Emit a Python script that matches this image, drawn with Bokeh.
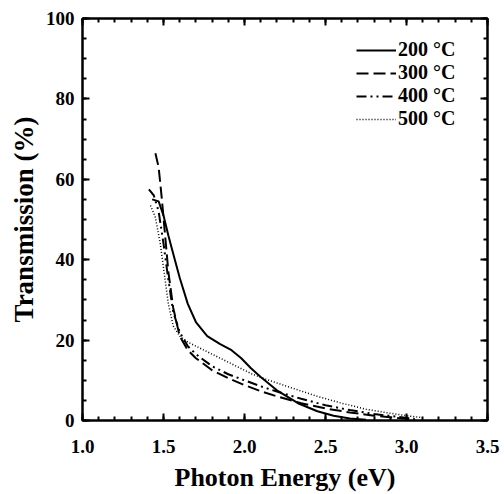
from bokeh.plotting import figure
from bokeh.models import (Range1d, LinearAxis, FixedTicker, Legend, LegendItem,
                          CustomJSTickFormatter)
from bokeh.embed import file_html
from bokeh.resources import INLINE

# Transmission spectra of films annealed at different temperatures
labels = ["200 °C", "300 °C", "400 °C", "500 °C"]

x_200 = [1.43, 1.47, 1.50, 1.53, 1.57, 1.60, 1.65, 1.70, 1.77, 1.85, 1.92, 1.98,
         2.04, 2.10, 2.20, 2.33, 2.45, 2.55, 2.65, 2.75]
y_200 = [55, 54.5, 51, 46, 40, 35.5, 29, 24.5, 21, 19, 17.5, 15.5,
         13, 10.8, 7.5, 4.3, 2.3, 1.2, 0.5, 0.2]

x_300 = [1.45, 1.47, 1.49, 1.51, 1.53, 1.56, 1.60, 1.65, 1.70, 1.80, 1.90, 2.00,
         2.10, 2.20, 2.35, 2.50, 2.65, 2.80, 2.95, 3.05]
y_300 = [66.5, 63, 55, 46, 37, 28, 21, 17.5, 15.5, 12.5, 10.5, 8.8,
         7.3, 6, 4.3, 3, 2, 1.2, 0.6, 0.3]

x_400 = [1.41, 1.44, 1.47, 1.50, 1.53, 1.56, 1.60, 1.65, 1.70, 1.80, 1.90, 2.00,
         2.10, 2.20, 2.35, 2.50, 2.65, 2.80, 2.95, 3.05]
y_400 = [57.5, 56, 52, 44, 35, 27, 22, 18.5, 16.5, 13.5, 11.5, 10,
         8.5, 7.2, 5.4, 3.8, 2.6, 1.6, 0.9, 0.4]

x_500 = [1.42, 1.45, 1.48, 1.50, 1.53, 1.56, 1.60, 1.65, 1.75, 1.85, 1.95, 2.05,
         2.15, 2.30, 2.45, 2.60, 2.75, 2.90, 3.00, 3.10]
y_500 = [53.5, 50.5, 44, 38, 29, 23.5, 21, 19.5, 17.5, 15.5, 13.5, 11.5,
         10, 8, 6, 4.3, 2.8, 1.8, 1.2, 0.7]

x_ticks = [1.0, 1.5, 2.0, 2.5, 3.0, 3.5]
y_ticks = [0, 20, 40, 60, 80, 100]

FONT = "Liberation Serif"

p = figure(width=504, height=494, output_backend="svg", toolbar_location=None,
           x_range=Range1d(1.0, 3.5), y_range=Range1d(0, 100),
           min_border_left=82, min_border_right=17, min_border_top=18,
           min_border_bottom=74, x_axis_location=None, y_axis_location=None)
p.grid.visible = False
p.outline_line_color = "black"
p.outline_line_width = 2
p.background_fill_color = "white"
p.border_fill_color = "white"

def make_axis(ticks, minor, fmt, label=None, label_size="27px"):
    ax = LinearAxis(ticker=FixedTicker(ticks=ticks, minor_ticks=minor))
    ax.major_tick_in = 7
    ax.major_tick_out = 0
    ax.minor_tick_in = 4
    ax.minor_tick_out = 0
    ax.axis_line_width = 2
    ax.major_tick_line_width = 2
    ax.minor_tick_line_width = 2
    ax.formatter = CustomJSTickFormatter(code=fmt)
    ax.major_label_text_font = FONT
    ax.major_label_text_font_style = "bold"
    ax.major_label_text_font_size = "19px"
    ax.major_label_text_color = "black"
    if label:
        ax.axis_label = label
        ax.axis_label_text_font = FONT
        ax.axis_label_text_font_style = "bold"
        ax.axis_label_text_font_size = label_size
        ax.axis_label_text_color = "black"
    return ax

x_minor = [round(1.0 + 0.1 * i, 2) for i in range(26)]
y_minor = [5 * i for i in range(21)]

bottom = make_axis(x_ticks, x_minor, "return tick.toFixed(1);",
                   "Photon Energy (eV)", "26px")
bottom.major_label_standoff = 19
bottom.axis_label_standoff = 7
left = make_axis(y_ticks, y_minor, "return tick.toFixed(0);", "Transmission (%)")
left.major_label_standoff = 8
left.axis_label_standoff = 4
top = make_axis(x_ticks, x_minor, "return '';")
right = make_axis(y_ticks, y_minor, "return '';")
top.major_label_standoff = 0
right.major_label_standoff = 0
p.add_layout(bottom, "below")
p.add_layout(left, "left")
p.add_layout(top, "above")
p.add_layout(right, "right")

r200 = p.line(x_200, y_200, line_color="black", line_width=2)
r300 = p.line(x_300, y_300, line_color="black", line_width=2, line_dash="12 5")
r400 = p.line(x_400, y_400, line_color="black", line_width=2, line_dash="10 4 2 4 2 4")
r500 = p.line(x_500, y_500, line_color="black", line_width=1.5, line_dash="1 2")

legend = Legend(items=[LegendItem(label=labels[0], renderers=[r200]),
                       LegendItem(label=labels[1], renderers=[r300]),
                       LegendItem(label=labels[2], renderers=[r400]),
                       LegendItem(label=labels[3], renderers=[r500])],
                location=(274, 290))
legend.border_line_alpha = 0
legend.background_fill_alpha = 0
legend.label_text_font = FONT
legend.label_text_font_style = "bold"
legend.label_text_font_size = "20px"
legend.label_text_color = "black"
legend.label_standoff = 2
legend.glyph_width = 40
legend.spacing = 0
legend.label_height = 20
legend.glyph_height = 20
legend.padding = 0
legend.margin = 0
legend.label_text_line_height = 1.0
p.add_layout(legend)

open("out.html", "w").write(file_html(p, INLINE))
